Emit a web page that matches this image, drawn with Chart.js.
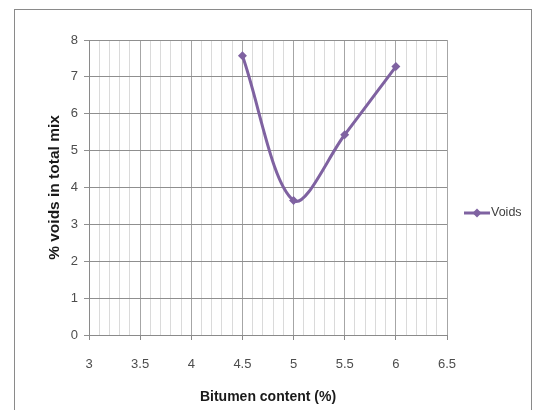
<!DOCTYPE html>
<html>
<head>
<meta charset="utf-8">
<script src="https://cdn.jsdelivr.net/npm/chart.js@4/dist/chart.umd.min.js"></script>
<style>
    html, body { margin: 0; padding: 0; background: #fff; }
    #wrap { position: relative; width: 535px; height: 410px; }
</style>
</head>
<body>
<div id="wrap"><canvas id="graficaVoids" width="535" height="410"></canvas></div>
<script>
// datos
const bitumen = [4.5, 5, 5.5, 6];
const voids = [7.57, 3.65, 5.43, 7.28];
const serieNombre = "Voids";
const xMin = 3, xMax = 6.5, xPaso = 0.1;
const yMin = 0, yMax = 8, yPaso = 1;

const morado = "#7f62a1";
const gris = "#4d4d4d";
const fuenteTicks = "'Liberation Sans', sans-serif";

function esMayor(v) {
    return Math.abs(v * 2 - Math.round(v * 2)) < 1e-6;
}

// marco exterior + leyenda a mano (linea con rombo)
const marcoYLeyenda = {
    id: "marcoYLeyenda",
    beforeDraw(chart) {
        let ctx = chart.ctx;
        ctx.save();
        ctx.strokeStyle = "#8a8a8a";
        ctx.lineWidth = 1;
        ctx.strokeRect(14.5, 9.5, 517, 420);
        ctx.restore();
    },
    afterDraw(chart) {
        let ctx = chart.ctx;
        let ds = chart.data.datasets[0];
        let y = 213;
        ctx.save();
        ctx.strokeStyle = ds.borderColor;
        ctx.lineWidth = 3;
        ctx.beginPath();
        ctx.moveTo(464, y);
        ctx.lineTo(490, y);
        ctx.stroke();
        ctx.fillStyle = ds.backgroundColor;
        Chart.helpers.drawPoint(ctx, { pointStyle: "rectRot", radius: 4.5, borderWidth: 0 }, 477, y);
        ctx.fillStyle = "#404040";
        ctx.font = "12.5px 'Liberation Sans', sans-serif";
        ctx.textBaseline = "middle";
        ctx.textAlign = "left";
        ctx.fillText(ds.label, 491, y);
        ctx.restore();
    }
};

let ctx = document.getElementById("graficaVoids");

new Chart(ctx, {
    type: "line",
    data: {
        datasets: [{
            label: serieNombre,
            data: bitumen.map((b, i) => ({ x: b, y: voids[i] })),
            borderColor: morado,
            backgroundColor: morado,
            borderWidth: 3,
            tension: 0.33,
            pointStyle: "rectRot",
            pointRadius: 4.5,
            pointHoverRadius: 4.5,
            pointBorderWidth: 0
        }]
    },
    options: {
        responsive: false,
        animation: false,
        layout: { padding: { left: 0, right: 88, top: 40, bottom: 0 } },
        plugins: {
            legend: { display: false },
            tooltip: { enabled: false }
        },
        scales: {
            x: {
                type: "linear",
                min: xMin,
                max: xMax,
                afterFit(scale) { scale.height = 75; },
                ticks: {
                    stepSize: xPaso,
                    autoSkip: false,
                    maxRotation: 0,
                    padding: 17,
                    color: gris,
                    font: { family: fuenteTicks, size: 13 },
                    callback: v => esMayor(v) ? String(Math.round(v * 10) / 10) : ""
                },
                grid: {
                    color: c => esMayor(c.tick.value) ? "#a6a6a6" : "#dadada",
                    tickColor: c => esMayor(c.tick.value) ? "#8a8a8a" : "rgba(0,0,0,0)",
                    tickLength: 5
                },
                border: { color: "#8a8a8a" },
                title: {
                    display: true,
                    text: "Bitumen content (%)",
                    color: "#1a1a1a",
                    font: { family: "'Liberation Sans', sans-serif", size: 14, weight: "bold" },
                    padding: { top: 0, bottom: 4 }
                }
            },
            y: {
                min: yMin,
                max: yMax,
                afterFit(scale) { scale.width = 89; },
                ticks: {
                    stepSize: yPaso,
                    padding: 6,
                    color: gris,
                    font: { family: fuenteTicks, size: 13 }
                },
                grid: {
                    color: "#8f8f8f",
                    tickLength: 5
                },
                border: { color: "#8a8a8a" },
                title: {
                    display: true,
                    text: "% voids in total mix",
                    color: "#1a1a1a",
                    font: { family: "'Liberation Sans', sans-serif", size: 15.5, weight: "bold" },
                    padding: { top: 45, bottom: 0 }
                }
            }
        }
    },
    plugins: [marcoYLeyenda]
});
</script>
</body>
</html>
